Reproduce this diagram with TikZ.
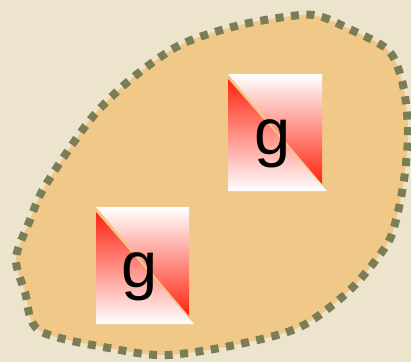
\documentclass[tikz,border=0pt]{standalone}
\usepackage{fontspec}
\setmainfont{Liberation Sans}
\definecolor{bg}{RGB}{236,228,205}
\definecolor{blob}{RGB}{240,201,136}
\definecolor{rim}{RGB}{122,125,85}
\definecolor{hot}{RGB}{255,35,15}
\tikzset{
  blobline/.style={fill=blob, draw=rim, line width=8pt, dash pattern=on 8pt off 7.5pt},
  lowtri/.style={top color=hot, bottom color=white, draw=none},
  uptri/.style={top color=white, bottom color=hot, draw=none},
  glabel/.style={font=\fontsize{65}{65}\selectfont, text=black, inner sep=0pt, anchor=base}
}
\begin{document}
\begin{tikzpicture}[x=1pt,y=-1pt]
\useasboundingbox (0,0) rectangle (411,362);
\fill[bg] (0,0) rectangle (411,362);
\draw[blobline] plot[smooth cycle, tension=0.5] coordinates {
 (300,15) (322,17) (345,27) (388,50) (403,85) (408,132) (404,180) (396,220) (386,246)
 (350,290) (300,327) (235,345) (168,355) (120,350) (40,331) (25,292) (16,258)
 (30,220) (45,186) (90,120) (130,80) (180,45) (240,25)};
% box 1
\shade[uptri] (228,74) -- (322,74) -- (322,184) -- cycle;
\shade[lowtri] (228,79) -- (327,191) -- (228,191) -- cycle;
\node[glabel] (g1) at (273,154) {g};
% box 2
\shade[uptri] (96,207) -- (189,207) -- (189,316) -- cycle;
\shade[lowtri] (96,212) -- (194,324) -- (96,324) -- cycle;
\node[glabel] (g2) at (140,287) {g};
\end{tikzpicture}
\end{document}
